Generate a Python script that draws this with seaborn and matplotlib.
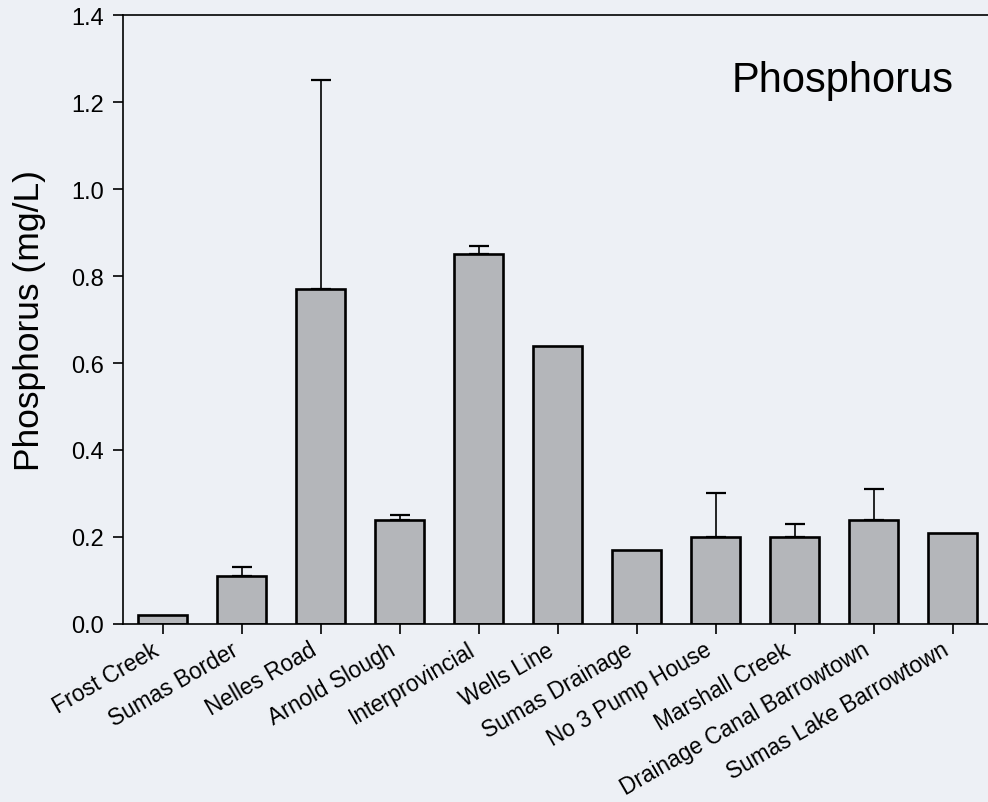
import matplotlib
matplotlib.use("Agg")
import matplotlib.pyplot as plt
import seaborn as sns
import pandas as pd
import numpy as np

# Mean total phosphorus per sampling site, with the upper error value
sites = [
    "Frost Creek", "Sumas Border", "Nelles Road", "Arnold Slough",
    "Interprovincial", "Wells Line", "Sumas Drainage", "No 3 Pump House",
    "Marshall Creek", "Drainage Canal Barrowtown", "Sumas Lake Barrowtown",
]
phosphorus = [0.02, 0.11, 0.77, 0.24, 0.85, 0.64, 0.17, 0.20, 0.20, 0.24, 0.21]
upper_err = [0.0, 0.02, 0.48, 0.01, 0.02, 0.0, 0.0, 0.10, 0.03, 0.07, 0.0]
y_ticks = [0.0, 0.2, 0.4, 0.6, 0.8, 1.0, 1.2, 1.4]

bg = "#EDF0F5"
sns.set_style("ticks")
plt.rcParams["font.family"] = ["Liberation Sans", "DejaVu Sans"]
plt.rcParams["text.color"] = "black"

df = pd.DataFrame({"site": sites, "P": phosphorus})

fig = plt.figure(figsize=(9.88, 8.03), dpi=100, facecolor=bg)
ax = fig.add_axes([0.1245, 0.2217, 0.8796, 0.7583])
ax.set_facecolor(bg)

sns.barplot(data=df, x="site", y="P", order=sites, color="#B4B6BA",
            saturation=1, width=0.61, edgecolor="black", linewidth=1.9,
            errorbar=None, ax=ax, zorder=2)

# upper-only error bars centred on each bar
centers = [p.get_x() + p.get_width() / 2 for p in ax.patches]
yerr = np.vstack([np.zeros(len(upper_err)), upper_err])
mask = np.array(upper_err) > 0
ax.errorbar(np.array(centers)[mask], np.array(phosphorus)[mask],
            yerr=yerr[:, mask], fmt="none", ecolor="black",
            elinewidth=1.2, capsize=7, capthick=1.6, zorder=1)

ax.set_xlim(-0.5, len(sites) - 0.5)
ax.set_ylim(0, 1.4)
ax.set_yticks(y_ticks)
ax.set_yticklabels([f"{v:.1f}" for v in y_ticks])

for side in ("left", "bottom", "top", "right"):
    ax.spines[side].set_visible(True)
    ax.spines[side].set_linewidth(1.2)
    ax.spines[side].set_color("black")

ax.tick_params(axis="y", direction="out", length=7, width=1.2,
               labelsize=17, pad=7, colors="black")
ax.tick_params(axis="x", direction="out", length=7, width=1.2,
               labelsize=16.3, pad=3, colors="black")
plt.setp(ax.get_xticklabels(), rotation=30, ha="right")

ax.set_xlabel("")
ax.set_ylabel("Phosphorus (mg/L)", fontsize=25.5, color="black")
ax.yaxis.set_label_coords(-0.089, 0.5)

ax.text(0.70, 0.875, "Phosphorus", transform=ax.transAxes,
        fontsize=30, ha="left", va="baseline", color="black")

fig.savefig("out.png", dpi=100, facecolor=bg)
